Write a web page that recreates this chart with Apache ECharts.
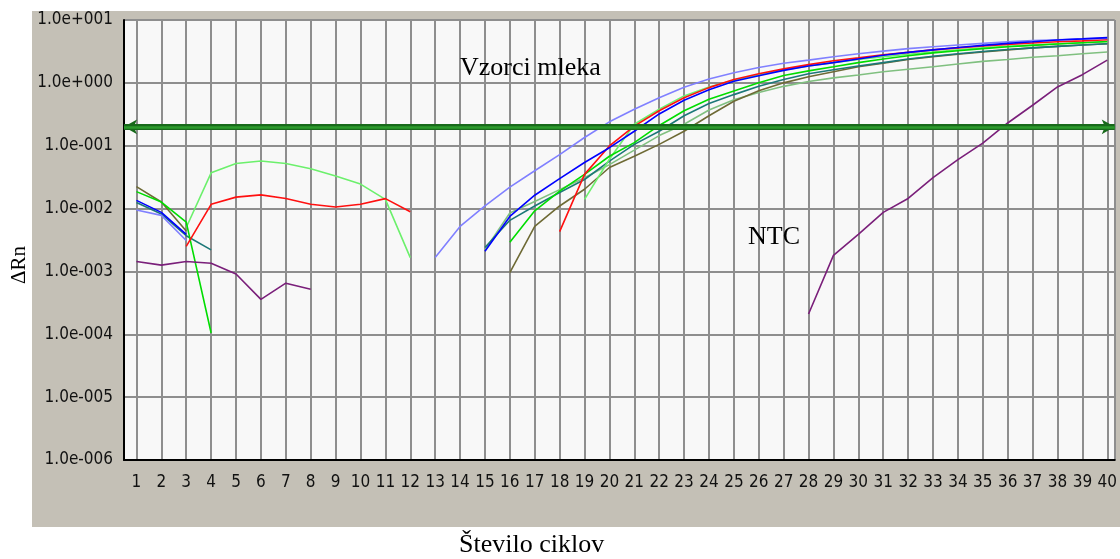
<!DOCTYPE html>
<html>
<head>
<meta charset="utf-8">
<script src="https://cdn.jsdelivr.net/npm/echarts@6/dist/echarts.min.js"></script>
<style>html,body{margin:0;padding:0;background:#fff;}#c{width:1120px;height:559px;}</style>
</head>
<body>
<div id="c"></div>
<script>
const cycles = [1,2,3,4,5,6,7,8,9,10,11,12,13,14,15,16,17,18,19,20,21,22,23,24,25,26,27,28,29,30,31,32,33,34,35,36,37,38,39,40];
const yTicks = [1e-6,1e-5,1e-4,1e-3,1e-2,1e-1,1,10];
const threshold = 0.2;

const lightBlue = [0.0095,0.0078,0.0031,null,null,null,null,null,null,null,null,null,0.00167,0.0052,0.011,0.022,0.04,0.072,0.135,0.24,0.38,0.58,0.85,1.15,1.45,1.75,2.05,2.3,2.6,2.9,3.2,3.5,3.75,4.0,4.25,4.5,4.7,4.85,5.0,5.1];
const blue = [0.0135,0.0087,0.0039,null,null,null,null,null,null,null,null,null,null,null,0.0021,0.0075,0.0163,0.030,0.054,0.093,0.17,0.32,0.53,0.78,1.06,1.3,1.58,1.85,2.1,2.4,2.75,3.05,3.35,3.65,3.95,4.25,4.5,4.8,5.0,5.25];
const red = [null,null,0.0025,0.0117,0.0152,0.0165,0.0145,0.0117,0.0106,0.0117,0.0144,0.0089,null,null,null,null,null,0.0043,0.035,0.099,0.205,0.36,0.58,0.84,1.13,1.4,1.67,1.95,2.25,2.5,2.8,3.05,3.35,3.6,3.85,4.1,4.3,4.5,4.65,4.85];
const lightGreen = [null,null,0.005,0.037,0.052,0.057,0.052,0.043,0.033,0.0245,0.014,0.00166,null,null,null,null,null,null,0.014,0.061,0.22,0.38,0.62,0.86,1.1,1.35,1.6,1.85,2.1,2.35,2.6,2.85,3.1,3.35,3.6,3.8,4.0,4.2,4.35,4.5];
const green = [0.0186,0.0127,0.0061,0.000105,null,null,null,null,null,null,null,null,null,null,null,0.0029,0.0092,0.019,0.035,0.068,0.112,0.21,0.36,0.55,0.74,1.0,1.31,1.55,1.8,2.1,2.4,2.7,3.0,3.25,3.5,3.75,3.95,4.15,4.35,4.55];
const teal = [0.0125,0.0082,0.0037,0.0022,null,null,null,null,null,null,null,null,null,null,0.0024,0.0065,0.011,0.018,0.029,0.057,0.105,0.17,0.30,0.47,0.65,0.88,1.13,1.4,1.62,1.85,2.1,2.4,2.65,2.9,3.15,3.4,3.6,3.8,4.0,4.2];
const medGreen = [null,null,null,null,null,null,null,null,null,null,null,null,null,null,0.0022,0.0085,0.013,0.02,0.031,0.05,0.085,0.145,0.22,0.37,0.54,0.7,0.88,1.05,1.2,1.33,1.5,1.65,1.8,2.0,2.2,2.35,2.55,2.7,2.9,3.1];
const olive = [0.0224,0.0127,0.0044,null,null,null,null,null,null,null,null,null,null,null,null,0.00096,0.0052,0.011,0.0203,0.045,0.068,0.105,0.17,0.30,0.51,0.75,1.0,1.25,1.5,1.8,2.05,2.35,2.6,2.85,3.1,3.35,3.6,3.8,4.0,4.2];
const purple = [0.00144,0.00126,0.00144,0.00135,0.00091,0.00036,0.00065,0.00052,null,null,null,null,null,null,null,null,null,null,null,null,null,null,null,null,null,null,null,0.00021,0.0018,0.0039,0.0087,0.0145,0.031,0.06,0.11,0.23,0.44,0.86,1.35,2.3];

const seriesDefs = [
  {name:'medGreen', data:medGreen, color:'#80c080'},
  {name:'olive', data:olive, color:'#6e6a35'},
  {name:'teal', data:teal, color:'#1c7878'},
  {name:'lightGreen', data:lightGreen, color:'#6cf06c'},
  {name:'green', data:green, color:'#00dd00'},
  {name:'red', data:red, color:'#ff1010'},
  {name:'lightBlue', data:lightBlue, color:'#8080ff'},
  {name:'blue', data:blue, color:'#0000ff'},
  {name:'purple', data:purple, color:'#7a1f7a'}
];

const chart = echarts.init(document.getElementById('c'), null, {renderer:'canvas'});
const narrow = '"DejaVu Sans Condensed", "Liberation Sans", sans-serif';
const serif = '"Liberation Serif", "Times New Roman", serif';

function fmtExp(v){
  const e = Math.round(Math.log10(v));
  const s = e < 0 ? '-' : '+';
  return '1.0e' + s + String(Math.abs(e)).padStart(3,'0');
}

const series = seriesDefs.map(d => ({
  type:'line', name:d.name,
  data: cycles.map((c,i) => [c, d.data[i] == null ? '-' : d.data[i]]),
  showSymbol:false, connectNulls:false, silent:true,
  lineStyle:{color:d.color, width:1.6}, itemStyle:{color:d.color}, z:3
}));

series.push({
  type:'line', data:[], silent:true,
  markLine:{silent:true, symbol:['arrow','arrow'], symbolSize:[11,13], label:{show:false},
    lineStyle:{color:'#17691a', width:6, type:'solid'},
    data:[{yAxis:threshold}]}, z:4
});
series.push({
  type:'line', data:[], silent:true,
  markLine:{silent:true, symbol:['none','none'], label:{show:false},
    lineStyle:{color:'#2c9a2c', width:2.5, type:'solid'},
    data:[{yAxis:threshold}]}, z:5
});

chart.setOption({
  animation:false,
  backgroundColor:'#ffffff',
  graphic:[
    {type:'rect', shape:{x:32, y:11, width:1100, height:516}, style:{fill:'#c4c0b6'}, z:-10, silent:true},
    {type:'text', left:460, top:55, style:{text:'Vzorci mleka', font:'26px ' + serif, fill:'#000'}, z:10},
    {type:'text', left:748, top:224, style:{text:'NTC', font:'26px ' + serif, fill:'#000'}, z:10},
    {type:'text', left:459, top:532, style:{text:'Število ciklov', font:'26px ' + serif, fill:'#000'}, z:10},
    {type:'text', x:9, y:284, rotation:Math.PI/2, style:{text:'\u0394Rn', font:'21px ' + serif, fill:'#000'}, z:10}
  ],
  grid:{left:124, top:20, width:995, height:440, show:true, backgroundColor:'#f8f8f8', borderWidth:0},
  xAxis:{
    type:'value', min:0.5, max:40.3, splitNumber:40, minInterval:1, maxInterval:1,
    axisLine:{show:true, onZero:false, lineStyle:{color:'#000', width:2}},
    axisTick:{show:false},
    splitLine:{show:true, lineStyle:{color:'#8e8e8e', width:2}},
    axisLabel:{margin:14, color:'#111', fontFamily:narrow, fontSize:17,
      formatter: v => (Math.abs(v - Math.round(v)) < 1e-6 && v >= 1 && v <= 40) ? String(Math.round(v)) : ''}
  },
  yAxis:{
    type:'log', logBase:10, min:yTicks[0], max:yTicks[yTicks.length-1], interval:1, splitNumber:7,
    axisLine:{show:true, onZero:false, lineStyle:{color:'#000', width:2}},
    axisTick:{show:false},
    splitLine:{show:true, lineStyle:{color:'#8e8e8e', width:2}},
    axisLabel:{margin:11, color:'#111', fontFamily:narrow, fontSize:17, formatter: fmtExp}
  },
  series: series
});
</script>
</body>
</html>
